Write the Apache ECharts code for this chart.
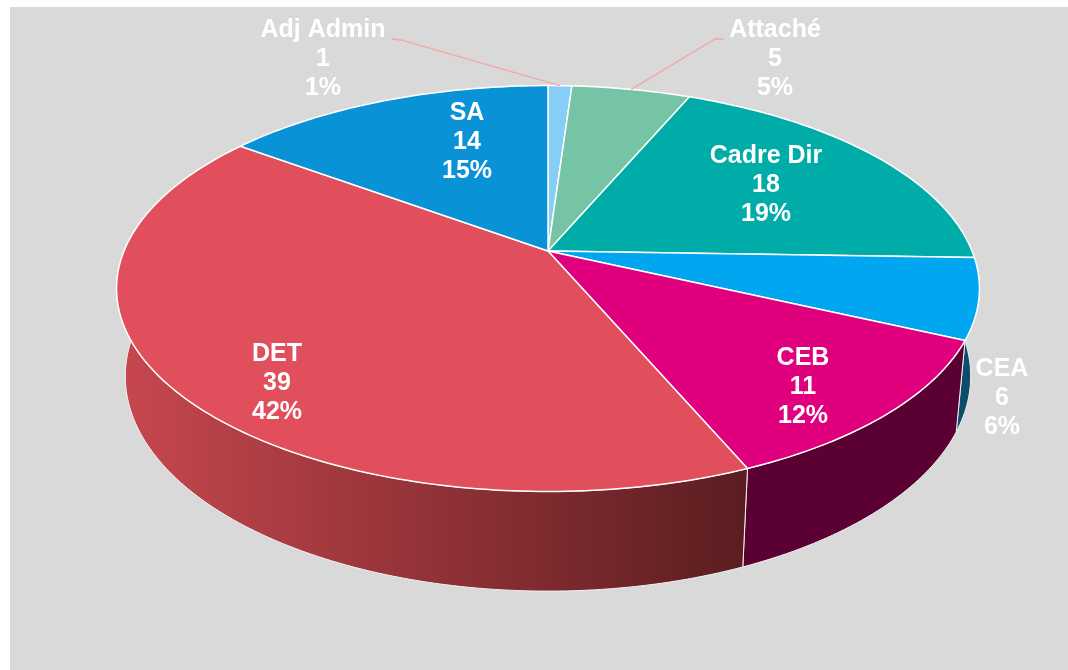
<!DOCTYPE html>
<html>
<head>
<meta charset="utf-8">
<script src="https://cdn.jsdelivr.net/npm/echarts@6/dist/echarts.min.js"></script>
<style>
  html, body { margin: 0; padding: 0; background: #fff; }
  #chart { width: 1068px; height: 670px; }
</style>
</head>
<body>
<div id="chart"></div>
<script>
// data (clockwise from 12 o'clock)
const categories = ['Adj Admin', 'Attaché', 'Cadre Dir', 'CEA', 'CEB', 'DET', 'SA']
const counts = [1, 5, 18, 6, 11, 39, 14]
const percents = [1, 5, 19, 6, 12, 42, 15]

const topColors = ['#86cef5', '#75c4a6', '#00aca7', '#00a6ef', '#e0007e', '#e04f5b', '#0a92d6']
const wallColors = ['#3b7fa6', '#3f7d66', '#00605d', '#0d4d6b', '#5b0033', null, '#075a85']

// label placement (text only), leader elbows for the outside ones
const labelAt = {
  'Adj Admin': [323, 59], 'Attaché': [775, 59], 'Cadre Dir': [766, 185],
  'CEA': [1002, 398], 'CEB': [803, 387], 'DET': [277, 383], 'SA': [467, 142]
}
const leaders = {
  'Adj Admin': [[392, 39], [401, 40]],
  'Attaché': [[724, 39], [715, 39]]
}

const total = counts.reduce((a, b) => a + b, 0)
const starts = []
let acc = 0
counts.forEach(c => { starts.push(acc / total * Math.PI * 2); acc += c })

// tilted disk with a little perspective
const G = { cx: 548, cy: 251, rx: 424, ry: 196, k: 0.185, depth: 88, dw: 0.02 }
function proj (th, r, low) {
  const u = r * Math.sin(th)
  const v = -r * Math.cos(th)
  const w = 1 - G.k * v + (low ? G.dw : 0)
  return [G.cx + G.rx * u / w, G.cy + (G.ry * v + (low ? G.depth : 0)) / w]
}
function arc (a0, a1, low) {
  const n = Math.max(2, Math.ceil((a1 - a0) / (Math.PI / 180)))
  const pts = []
  for (let i = 0; i <= n; i++) pts.push(proj(a0 + (a1 - a0) * i / n, 1, low))
  return pts
}
function span (i) {
  const a0 = starts[i]
  return [a0, a0 + counts[i] / total * Math.PI * 2]
}

const chart = echarts.init(document.getElementById('chart'))
const seriesData = categories.map((c, i) => ({ name: c, value: counts[i] }))

const option = {
  backgroundColor: '#ffffff',
  animation: false,
  graphic: [{
    type: 'rect', left: 10, top: 7, z: 0,
    shape: { width: 1058, height: 663 },
    style: { fill: '#d9d9d9' }
  }],
  series: [
    {
      type: 'custom',
      name: 'walls',
      coordinateSystem: 'none',
      z: 2,
      data: seriesData,
      renderItem: (params) => {
        const i = params.dataIndex
        const [a0, a1] = span(i)
        const points = arc(a0, a1, false).concat(arc(a0, a1, true).reverse())
        const fill = wallColors[i] || new echarts.graphic.LinearGradient(0, 0, 1, 0, [
          { offset: 0, color: '#c8474f' },
          { offset: 1, color: '#5a1d20' }
        ])
        return {
          type: 'polygon',
          shape: { points },
          style: { fill, stroke: '#f2f2f2', lineWidth: 1 }
        }
      }
    },
    {
      type: 'custom',
      name: 'tops',
      coordinateSystem: 'none',
      z: 3,
      data: seriesData,
      renderItem: (params) => {
        const i = params.dataIndex
        const name = categories[i]
        const [a0, a1] = span(i)
        const points = [proj(0, 0, false)].concat(arc(a0, a1, false))
        const children = [{
          type: 'polygon',
          shape: { points },
          style: { fill: topColors[i], stroke: '#ffffff', lineWidth: 1.5 }
        }]
        if (leaders[name]) {
          const mid = (a0 + a1) / 2
          children.push({
            type: 'polyline',
            z2: 5,
            shape: { points: leaders[name].concat([proj(mid, 1, false)]) },
            style: { stroke: '#f4a6a6', lineWidth: 1.3, fill: null }
          })
        }
        const pos = labelAt[name]
        children.push({
          type: 'text',
          z2: 10,
          x: pos[0],
          y: pos[1],
          style: {
            text: name + '\n' + counts[i] + '\n' + percents[i] + '%',
            fill: '#ffffff',
            fontSize: 25,
            fontWeight: 'bold',
            fontFamily: 'Liberation Sans, Arial, sans-serif',
            lineHeight: 29,
            align: 'center',
            verticalAlign: 'middle'
          }
        })
        return { type: 'group', children }
      }
    }
  ]
}
chart.setOption(option)
</script>
</body>
</html>
